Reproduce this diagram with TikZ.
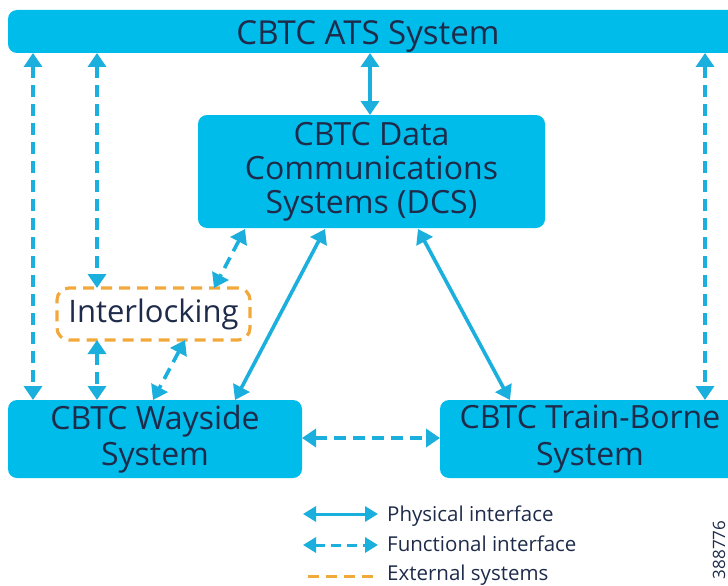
\documentclass[tikz,border=0pt]{standalone}
\usepackage{fontspec}
\setmainfont{Open Sans}
\usetikzlibrary{arrows.meta}
\definecolor{boxcyan}{HTML}{00BCEB}
\definecolor{linkcyan}{HTML}{1AAFDD}
\definecolor{navytext}{HTML}{1E2B4A}
\definecolor{extorange}{HTML}{F2A93B}
\tikzset{
  sysbox/.style={fill=boxcyan, rounded corners=9pt, text=navytext, font=\fontsize{32}{34}\selectfont, align=center, inner sep=0pt},
  phys/.style={draw=linkcyan, line width=3.6pt, {Triangle[length=14pt,width=18pt]}-{Triangle[length=14pt,width=18pt]}},
  func/.style={phys, dash pattern=on 12pt off 7pt},
  legphys/.style={draw=linkcyan, line width=3pt, {Triangle[length=13pt,width=15pt]}-{Triangle[length=13pt,width=15pt]}},
  legfunc/.style={legphys, dash pattern=on 10pt off 6pt},
  extbox/.style={draw=extorange, line width=3.2pt, dash pattern=on 11pt off 7pt, rounded corners=12pt, text=navytext, font=\fontsize{31}{33}\selectfont, inner sep=0pt},
  legtext/.style={text=navytext, font=\fontsize{20.5}{25}\selectfont, anchor=base west, inner sep=0pt}
}
\begin{document}
\begin{tikzpicture}[x=1pt,y=-1pt]
\useasboundingbox (0,0) rectangle (728,586);
% systems
\node[sysbox, minimum width=732pt, minimum height=43pt] (ats) at (374,31.5) {};
\node[text=navytext, font=\fontsize{33}{36}\selectfont, anchor=base, inner sep=0pt] (atst) at (368,45) {CBTC ATS System};
\node[sysbox, minimum width=347pt, minimum height=113pt] (dcs) at (371.5,171.5) {CBTC Data\\Communications\\Systems (DCS)};
\node[sysbox, font=\fontsize{32}{36.5}\selectfont, minimum width=294pt, minimum height=78pt] (way) at (155,439) {CBTC Wayside\\System};
\node[sysbox, font=\fontsize{32}{36.5}\selectfont, minimum width=300pt, minimum height=78pt] (train) at (590,439) {CBTC Train-Borne\\System};
\node[extbox, minimum width=193pt, minimum height=52pt] (ilk) at (153.5,314) {Interlocking};
% interfaces
\draw[func] (33,53) -- (33,400);
\draw[func] (97,53) -- (97,288);
\draw[phys] (370,53) -- (370,115);
\draw[func] (705,53) -- (705,400);
\draw[func] (245,229) -- (214,288);
\draw[func] (97,340) -- (97,400);
\draw[func] (185,340) -- (153,400);
\draw[phys] (325,229) -- (235,400);
\draw[phys] (418,229) -- (510,400);
\draw[func] (302,438) -- (440,438);
% legend
\coordinate (l1a) at (303,514); \coordinate (l1b) at (378,514);
\coordinate (l2a) at (303,545); \coordinate (l2b) at (378,545);
\coordinate (l3a) at (308,576); \coordinate (l3b) at (373,576);
\draw[legphys] (l1a) -- (l1b);
\draw[legfunc] (l2a) -- (l2b);
\draw[extorange, line width=3pt, dash pattern=on 11pt off 7pt] (l3a) -- (l3b);
\node[legtext] (lt1) at (387,521) {Physical interface};
\node[legtext] (lt2) at (387,551) {Functional interface};
\node[legtext] (lt3) at (387,580) {External systems};
\node[text=navytext, font=\fontsize{17}{20}\selectfont, rotate=90, inner sep=0pt] (fig) at (719,550) {388776};
\end{tikzpicture}
\end{document}
